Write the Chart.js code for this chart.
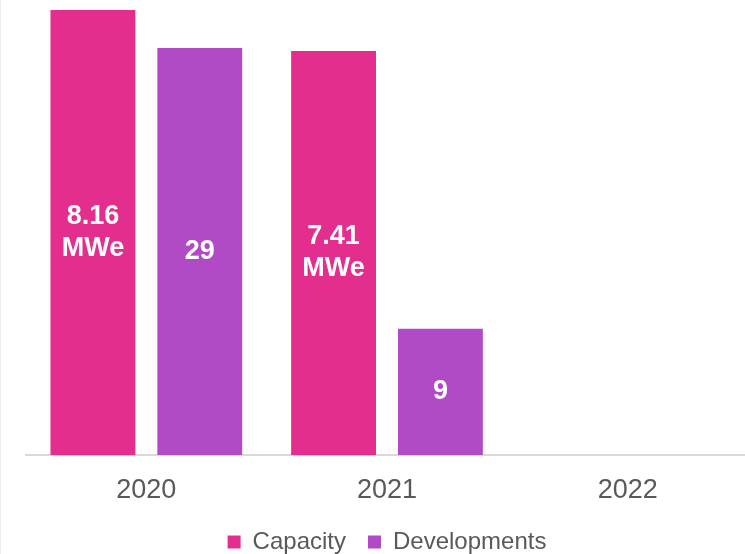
<!DOCTYPE html>
<html>
<head>
<meta charset="utf-8">
<script src="https://cdn.jsdelivr.net/npm/chart.js@4"></script>
<style>
  html, body { margin: 0; padding: 0; background: #fff; overflow: hidden; }
  #wrap { position: relative; width: 749px; height: 564px; border-left: 1px solid #ececec; box-sizing: border-box; }
</style>
</head>
<body>
<div id="wrap"><canvas id="capChart"></canvas></div>
<script>
const years = ["2020", "2021", "2022"];
const capacity = [8.16, 7.41, null]; // MWe
const developments = [29, 9, null];
const capacityUnit = "MWe";

// white value labels in the middle of each bar
const barLabels = {
  id: "barLabels",
  afterDatasetsDraw(chart) {
    const ctx = chart.ctx;
    ctx.save();
    ctx.fillStyle = "#ffffff";
    ctx.font = "bold 27px 'Liberation Sans', Arial, sans-serif";
    ctx.textAlign = "center";
    ctx.textBaseline = "middle";
    chart.data.datasets.forEach((ds, i) => {
      const meta = chart.getDatasetMeta(i);
      meta.data.forEach((bar, j) => {
        const v = ds.data[j];
        if (v == null) return;
        const lines = ds.unit ? [String(v), ds.unit] : [String(v)];
        const mid = (bar.y + bar.base) / 2;
        const lh = 32;
        lines.forEach((t, k) => {
          ctx.fillText(t, bar.x, mid + (k - (lines.length - 1) / 2) * lh);
        });
      });
    });
    ctx.restore();
  },
};

const ctx = document.getElementById("capChart").getContext("2d");

let capChart = new Chart(ctx, {
  type: "bar",
  data: {
    labels: years,
    datasets: [
      {
        label: "Capacity",
        data: capacity,
        unit: capacityUnit,
        backgroundColor: "#e32e8e",
        yAxisID: "yCap",
        categoryPercentage: 0.888,
        barPercentage: 0.794,
      },
      {
        label: "Developments",
        data: developments,
        backgroundColor: "#b04bc5",
        yAxisID: "yDev",
        categoryPercentage: 0.888,
        barPercentage: 0.794,
      },
    ],
  },
  options: {
    responsive: true,
    maintainAspectRatio: false,
    animation: false,
    layout: { padding: { left: 25, right: 1, top: 0, bottom: 0 } },
    plugins: {
      tooltip: { enabled: false },
      legend: {
        position: "bottom",
        labels: {
          color: "#595959",
          font: { family: "'Liberation Sans', Arial, sans-serif", size: 24 },
          boxWidth: 13,
          boxHeight: 13,
          padding: 22,
        },
      },
    },
    scales: {
      x: {
        grid: { display: false },
        border: { display: true, color: "#d9d9d9", width: 2 },
        ticks: {
          color: "#595959",
          font: { family: "'Liberation Sans', Arial, sans-serif", size: 27 },
          padding: 11,
        },
        afterFit: (scale) => {
          scale.height = 53;
        },
      },
      yCap: {
        display: false,
        min: 0,
        max: 8.343,
      },
      yDev: {
        display: false,
        min: 0,
        max: 32.42,
      },
    },
  },
  plugins: [barLabels],
});
</script>
</body>
</html>
